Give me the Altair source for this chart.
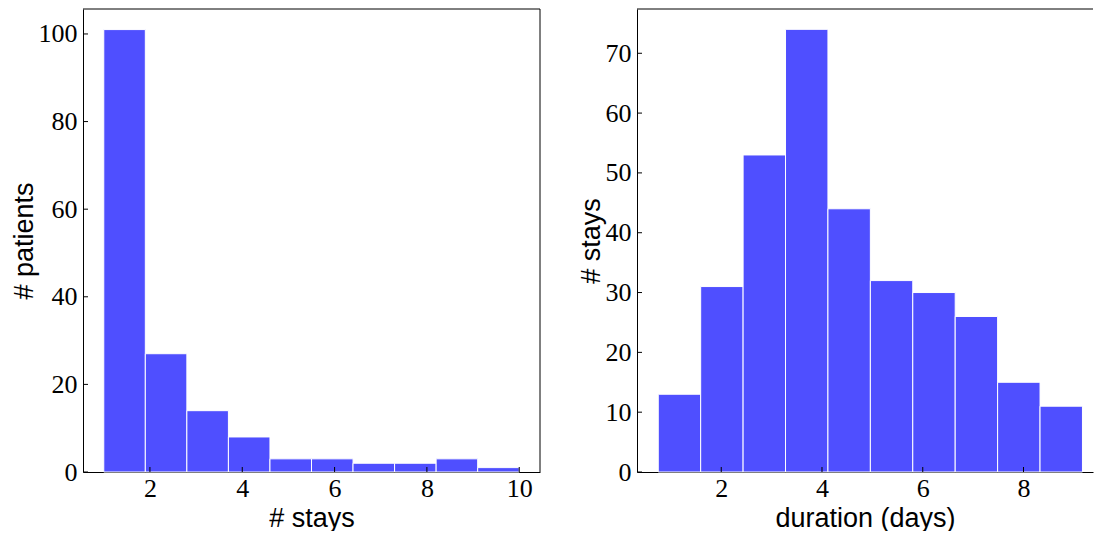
import altair as alt
import numpy as np
import pandas as pd

# ---- data ----
stays_counts = [101, 27, 14, 8, 3, 3, 2, 2, 3, 1]
stays_min, stays_max = 1.0, 10.0
dur_counts = [13, 31, 53, 74, 44, 32, 30, 26, 15, 11]
dur_min, dur_max = 0.75, 9.17

left_xticks = [2, 4, 6, 8, 10]
left_yticks = [0, 20, 40, 60, 80, 100]
right_xticks = [2, 4, 6, 8]
right_yticks = [0, 10, 20, 30, 40, 50, 60, 70]

BAR = "#4f4fff"
LABEL_FONT = "Liberation Serif"
TITLE_FONT = "Liberation Sans"

W1, W2, H = 457, 456, 463


def hist_df(counts, lo, hi):
    edges = np.linspace(lo, hi, len(counts) + 1)
    return pd.DataFrame({"lo": edges[:-1], "hi": edges[1:], "n": counts})


def panel(counts, lo, hi, xdom, ydom, xt, yt, xtitle, ytitle, width, right_frame):
    xs = alt.Scale(domain=xdom, nice=False, zero=False)
    ys = alt.Scale(domain=ydom, nice=False)
    axis_common = dict(
        grid=False, ticks=False, domain=True, domainColor="black", domainWidth=1,
        labelFont=LABEL_FONT, labelFontSize=26, labelColor="black",
        titleFont=TITLE_FONT, titleFontSize=27, titleColor="black",
        titleFontWeight="normal", format="d",
    )
    xaxis = alt.Axis(values=xt, title=xtitle, titlePadding=4, labelPadding=3, **axis_common)
    yaxis = alt.Axis(values=yt, title=ytitle, titlePadding=0, labelPadding=6, **axis_common)
    bars = alt.Chart(hist_df(counts, lo, hi)).mark_bar(
        color=BAR, stroke="white", strokeWidth=1
    ).encode(
        x=alt.X("lo:Q", scale=xs, axis=xaxis),
        x2="hi:Q",
        y=alt.Y("n:Q", scale=ys, axis=yaxis),
        y2=alt.datum(0),
    )
    xtick = alt.Chart(pd.DataFrame({"t": xt})).mark_rule(color="black", strokeWidth=1).encode(
        x=alt.X("t:Q", scale=xs, axis=xaxis),
        y=alt.value(H), y2=alt.value(H - 5),
    )
    ytick = alt.Chart(pd.DataFrame({"t": yt})).mark_rule(color="black", strokeWidth=1).encode(
        y=alt.Y("t:Q", scale=ys, axis=yaxis),
        x=alt.value(0), x2=alt.value(5),
    )
    top = alt.Chart(pd.DataFrame({"a": [0]})).mark_rule(color="black", strokeWidth=1).encode(
        x=alt.value(0), x2=alt.value(width), y=alt.value(0)
    )
    layers = [bars, xtick, ytick, top]
    if right_frame:
        rf = alt.Chart(pd.DataFrame({"a": [0]})).mark_rule(color="black", strokeWidth=1).encode(
            x=alt.value(width), y=alt.value(0), y2=alt.value(H)
        )
        layers.append(rf)
    return alt.layer(*layers).properties(width=width, height=H)


left = panel(stays_counts, stays_min, stays_max, [0.55, 10.45], [0, 105.7],
             left_xticks, left_yticks, "# stays", "# patients", W1, True)
right = panel(dur_counts, dur_min, dur_max, [0.328, 0.328 + W2 / 50.38], [0, 77.4],
              right_xticks, right_yticks, "duration (days)", "# stays", W2, False)

chart = alt.hconcat(left, right, spacing=36).properties(
    padding={"left": 2, "top": 0, "right": 0, "bottom": 0}
).configure_view(stroke=None)

chart.save("out.html", embed_options={"renderer": "svg", "actions": False})
